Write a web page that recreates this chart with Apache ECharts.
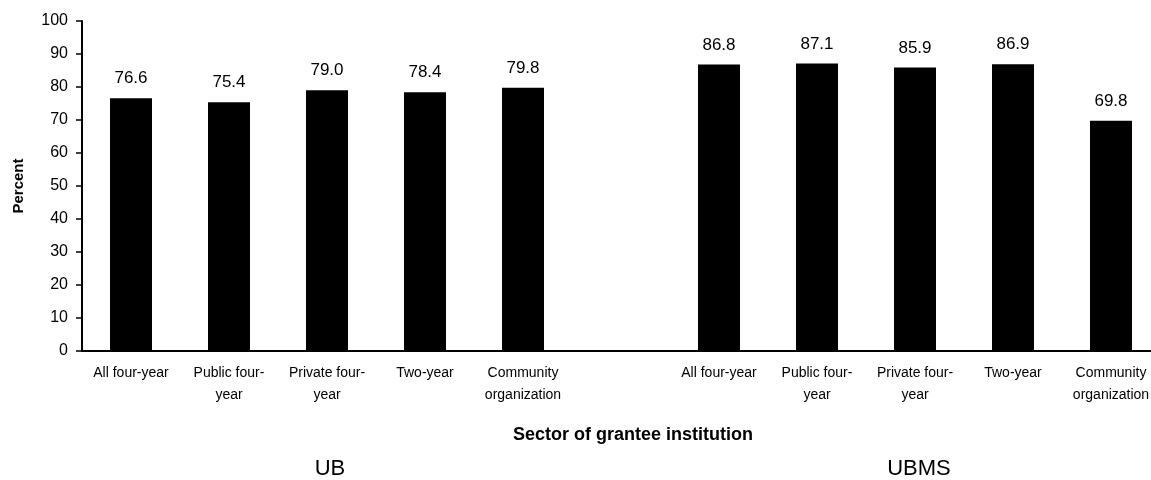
<!DOCTYPE html>
<html>
<head>
<meta charset="utf-8">
<script src="https://cdn.jsdelivr.net/npm/echarts@6/dist/echarts.min.js"></script>
<style>
  html, body { margin: 0; padding: 0; overflow: hidden; background: #fff; }
  #main { width: 1172px; height: 480px; }
</style>
</head>
<body>
<div id="main"></div>
<script>
// sectors (repeated for each program)
var sectors = ['All four-year', 'Public four-\nyear', 'Private four-\nyear', 'Two-year', 'Community\norganization'];
var ubValues = [76.6, 75.4, 79.0, 78.4, 79.8];
var ubmsValues = [86.8, 87.1, 85.9, 86.9, 69.8];
var groupNames = ['UB', 'UBMS'];
var yTicks = [0, 10, 20, 30, 40, 50, 60, 70, 80, 90, 100];

// one empty slot between the two groups
var categories = sectors.concat(['']).concat(sectors);
var values = ubValues.concat(['-']).concat(ubmsValues);

var font = 'Arial, "Liberation Sans", sans-serif';

var myChart = echarts.init(document.getElementById('main'));

var option = {
    animation: false,
    grid: { left: 82, right: 12, top: 21, bottom: 129 },
    xAxis: {
        type: 'category',
        data: categories,
        name: 'Sector of grantee institution',
        nameLocation: 'middle',
        nameGap: 75,
        nameTextStyle: { fontFamily: font, fontSize: 18, fontWeight: 'bold', color: '#000', padding: [0, 0, 0, 24] },
        axisLine: { lineStyle: { color: '#000', width: 2 } },
        axisTick: { show: false },
        axisLabel: {
            interval: 0,
            fontFamily: font,
            fontSize: 14,
            lineHeight: 22,
            color: '#000',
            margin: 11
        }
    },
    yAxis: {
        type: 'value',
        min: yTicks[0],
        max: yTicks[yTicks.length - 1],
        interval: 10,
        name: 'Percent',
        nameLocation: 'middle',
        nameGap: 56,
        nameRotate: 90,
        nameTextStyle: { fontFamily: font, fontSize: 15, fontWeight: 'bold', color: '#000' },
        axisLine: { show: true, lineStyle: { color: '#000', width: 2 } },
        axisTick: { show: true, length: 6, lineStyle: { color: '#000', width: 1.5 } },
        splitLine: { show: false },
        axisLabel: { fontFamily: font, fontSize: 16, color: '#000', margin: 14 }
    },
    series: [{
        type: 'bar',
        data: values,
        barWidth: 42,
        itemStyle: { color: '#000' },
        label: {
            show: true,
            position: 'top',
            distance: 11,
            fontFamily: font,
            fontSize: 17,
            color: '#000',
            formatter: function (p) { return p.value.toFixed(1); }
        }
    }],
    graphic: [
        { type: 'text', x: 330, y: 469, style: { text: groupNames[0], font: '22px ' + font, fill: '#000', textAlign: 'center', textVerticalAlign: 'middle' } },
        { type: 'text', x: 919, y: 469, style: { text: groupNames[1], font: '22px ' + font, fill: '#000', textAlign: 'center', textVerticalAlign: 'middle' } }
    ]
};

myChart.setOption(option);
</script>
</body>
</html>
